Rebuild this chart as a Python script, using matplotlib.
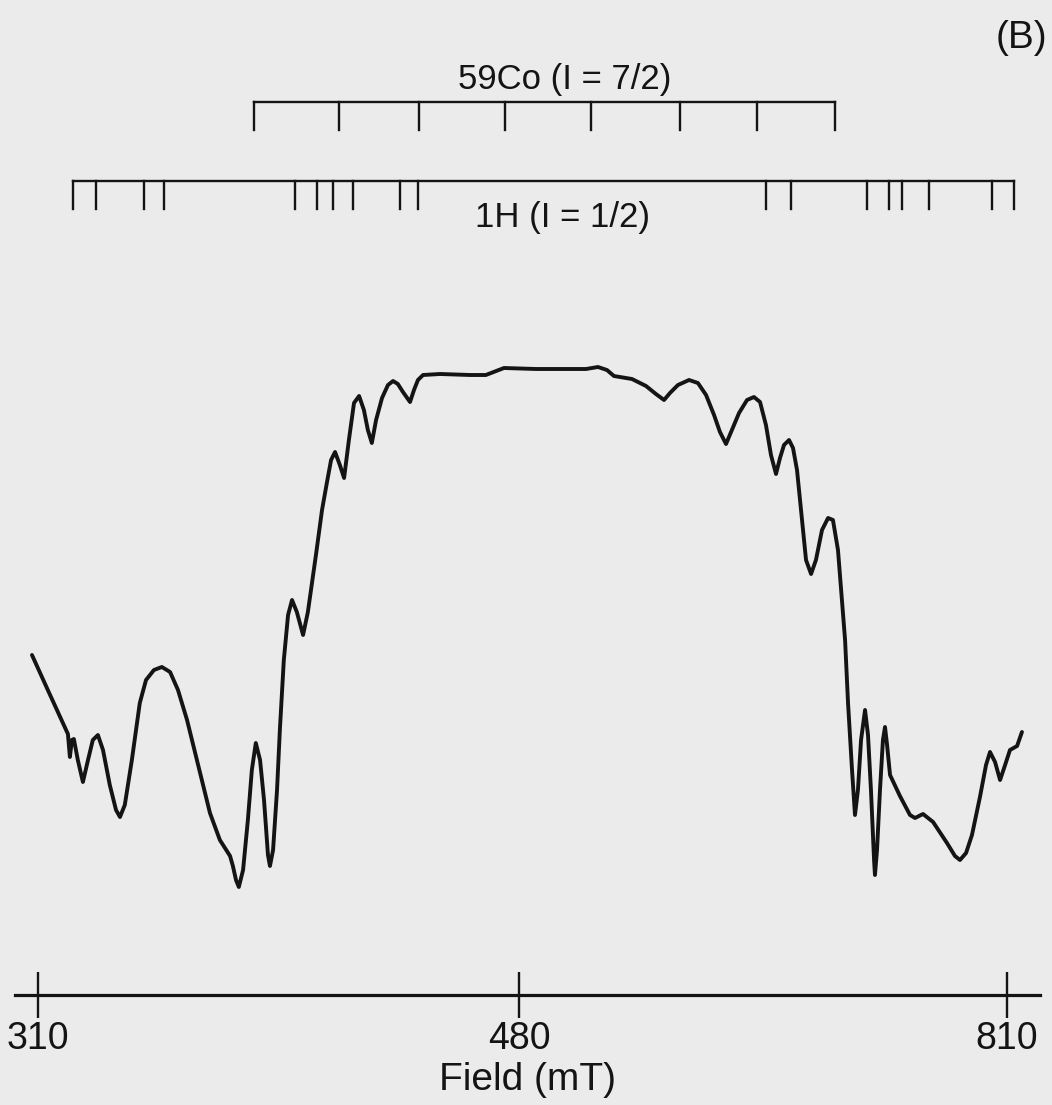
import numpy as np
import matplotlib.pyplot as plt

plt.rcParams['font.family'] = ['Liberation Sans', 'DejaVu Sans']

# stick diagrams, field positions in mT
co_lines = [386.5, 416.4, 444.7, 475.1, 528.7, 588.9, 640.9, 693.7]
h_lines = [322.4, 330.5, 347.5, 354.5, 400.8, 408.6, 414.3, 421.3, 437.9, 444.3,
           647.0, 663.9, 715.3, 730.2, 739.0, 757.3, 799.9, 814.7]

# spectrum (field in mT, signal in a.u.)
field = [
    307.9, 313.5, 319.5, 320.6, 321.3, 322.0, 322.7, 324.1, 325.9, 327.7,
    329.4, 331.2, 333.0, 335.4, 337.6, 339.0, 340.7, 343.2, 346.0, 348.2,
    351.0, 353.8, 356.7, 359.5, 362.7, 367.3, 370.8, 374.3, 377.9, 378.9,
    380.0, 381.0, 382.5, 384.2, 385.6, 387.0, 388.5, 389.9, 391.3, 392.0,
    393.1, 394.5, 395.5, 396.9, 398.4, 399.8, 401.5, 403.7, 405.4, 408.3,
    410.4, 412.1, 413.6, 415.0, 416.7, 418.2, 419.9, 421.7, 423.5, 425.2,
    426.6, 428.0, 429.5, 431.6, 433.7, 435.5, 437.2, 439.0, 441.5, 442.9,
    444.3, 446.1, 452.1, 462.7, 468.3, 471.9, 474.7, 491.5, 525.3, 533.4,
    539.5, 544.2, 556.4, 565.9, 572.6, 578.1, 582.1, 587.5, 595.0, 601.0,
    606.5, 611.9, 615.9, 620.0, 624.0, 628.8, 634.2, 638.9, 643.0, 647.0,
    650.4, 653.8, 656.5, 659.2, 662.6, 665.3, 668.0, 671.4, 674.1, 677.5,
    680.8, 684.9, 689.0, 692.3, 695.7, 698.4, 700.5, 702.5, 705.2, 707.2,
    709.2, 711.3, 714.0, 716.0, 718.0, 720.1, 720.7, 722.1, 724.1, 726.1,
    727.5, 728.9, 730.9, 737.6, 744.4, 747.8, 753.2, 760.0, 769.4, 774.8,
    778.2, 782.3, 786.3, 791.7, 795.8, 798.5, 801.9, 805.3, 808.7, 812.0,
    816.8, 820.1,
]
signal = [
    340, 305, 268, 261, 238, 255, 256, 235, 213, 235,
    255, 260, 245, 210, 185, 178, 190, 235, 292, 315,
    325, 328, 323, 305, 275, 222, 182, 155, 139, 129,
    115, 108, 125, 175, 225, 252, 235, 195, 140, 129,
    145, 205, 265, 335, 380, 395, 383, 360, 383, 441,
    485, 512, 535, 543, 530, 517, 555, 592, 599, 585,
    565, 552, 575, 597, 610, 614, 611, 603, 593, 605,
    615, 620, 621, 620, 620, 624, 627, 626, 626, 628,
    625, 619, 616, 609, 601, 595, 602, 610, 615, 612,
    600, 580, 563, 551, 565, 582, 595, 598, 593, 570,
    540, 521, 537, 550, 555, 547, 525, 475, 435, 421,
    435, 465, 477, 475, 445, 395, 355, 292, 225, 180,
    205, 255, 285, 260, 205, 135, 120, 145, 205, 255,
    268, 250, 220, 199, 180, 177, 181, 173, 152, 139,
    135, 142, 160, 198, 230, 243, 233, 215, 230, 245,
    249, 263,
]

tick_fields = [310, 480, 810]


# the printed field axis is not linear: 310-480 and 480-810 take about the same length
def to_pos(v):
    v = np.asarray(v, dtype=float)
    return np.where(v <= 480, (v - 310) / 170 * 481, 481 + (v - 480) / 330 * 488)


def from_pos(p):
    p = np.asarray(p, dtype=float)
    return np.where(p <= 481, 310 + p * 170 / 481, 480 + (p - 481) * 330 / 488)


W, H = 1052, 1105
ink = '#141414'
fig = plt.figure(figsize=(W / 100, H / 100), dpi=100, facecolor='#ebebeb')

left, right = 15 / W, 1040 / W
ax = fig.add_axes([left, (H - 995) / H, right - left, 695 / H])
ax.set_facecolor('none')
ax.set_xscale('function', functions=(to_pos, from_pos))
ax.set_xlim(301.9, 832.3)
ax.set_ylim(0, 695)

ax.plot(field, signal, color=ink, lw=2.8, solid_joinstyle='round',
        solid_capstyle='round')

for s in ('top', 'left', 'right'):
    ax.spines[s].set_visible(False)
ax.spines['bottom'].set_linewidth(2.3)
ax.spines['bottom'].set_color(ink)
ax.set_yticks([])
ax.set_xticks(tick_fields)
ax.set_xticklabels([str(t) for t in tick_fields])
ax.xaxis.set_minor_locator(plt.NullLocator())
ax.tick_params(axis='x', direction='inout', length=33, width=1.7, color=ink,
               labelsize=27, pad=2, labelcolor=ink)
ax.set_xlabel('Field (mT)', fontsize=28, color=ink, labelpad=4)

# stick diagrams on top
ax_top = fig.add_axes([left, (H - 250) / H, right - left, 250 / H])
ax_top.set_xscale('function', functions=(to_pos, from_pos))
ax_top.set_xlim(301.9, 832.3)
ax_top.set_ylim(250, 0)
ax_top.axis('off')

for pos, y_line, y_end in ((co_lines, 102, 130), (h_lines, 181, 209)):
    ax_top.hlines(y_line, min(pos), max(pos), color=ink, lw=1.7, capstyle='projecting')
    ax_top.vlines(pos, y_line, y_end, color=ink, lw=1.7, capstyle='projecting')

ax_top.text(0.5366, 89, '59Co (I = 7/2)', transform=ax_top.get_yaxis_transform(),
            ha='center', va='baseline', fontsize=25, color=ink)
ax_top.text(0.5337, 227, '1H (I = 1/2)', transform=ax_top.get_yaxis_transform(),
            ha='center', va='baseline', fontsize=25, color=ink)

fig.text(1047 / W, 1 - 38 / H, '(B)', ha='right', va='center', fontsize=28, color=ink)

fig.savefig('out.png', dpi=100, facecolor=fig.get_facecolor())
